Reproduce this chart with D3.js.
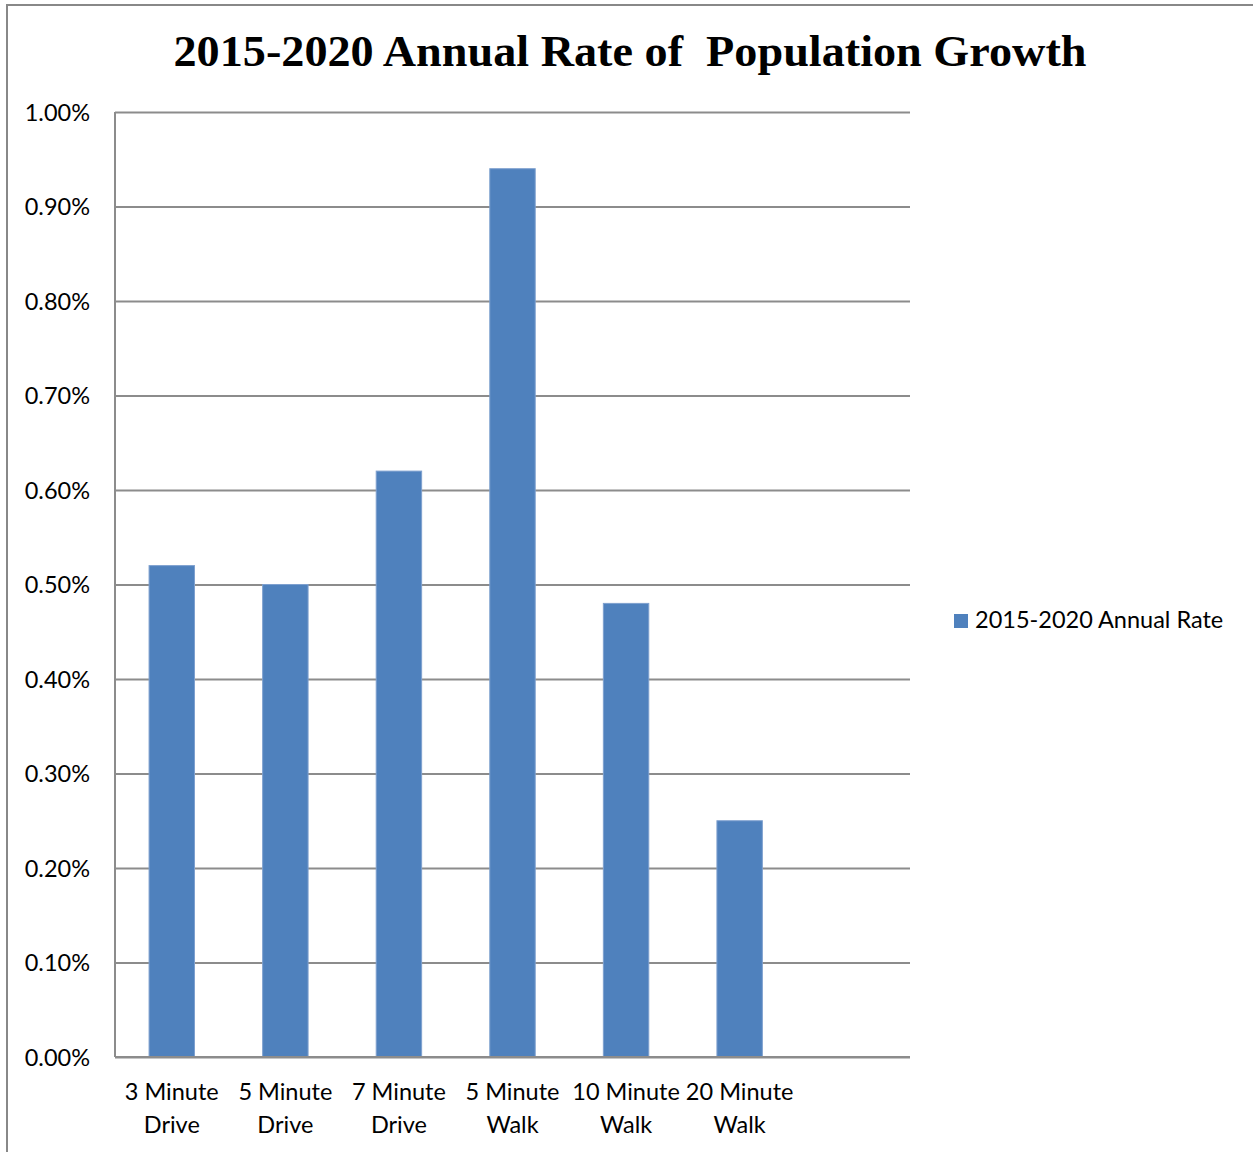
<!DOCTYPE html>
<html>
<head>
<meta charset="utf-8">
<script src="https://cdn.jsdelivr.net/npm/d3@7"></script>
<style>
  html, body { margin: 0; padding: 0; background: #fff; }
  svg { display: block; }
</style>
</head>
<body>
<script>
// Annual population growth rate by catchment area (percent)
const categories = [
  ["3 Minute", "Drive"],
  ["5 Minute", "Drive"],
  ["7 Minute", "Drive"],
  ["5 Minute", "Walk"],
  ["10 Minute", "Walk"],
  ["20 Minute", "Walk"],
  ["", ""]
];
const rates = [0.52, 0.50, 0.62, 0.94, 0.48, 0.25, null];
const yTicks = [0, 0.1, 0.2, 0.3, 0.4, 0.5, 0.6, 0.7, 0.8, 0.9, 1.0];
const seriesName = "2015-2020 Annual Rate";
const chartTitle = "2015-2020 Annual Rate of  Population Growth";

const W = 1253, H = 1152;
const plot = { left: 115, right: 910, top: 112, bottom: 1057 };
const labelFont = "Lato, 'Open Sans', sans-serif";
const labelSize = "23.5px";

const svg = d3.select("body").append("svg")
  .attr("width", W).attr("height", H);

// outer chart frame
svg.append("rect")
  .attr("x", 7).attr("y", 5)
  .attr("width", W + 20).attr("height", H + 20)
  .attr("fill", "#fff")
  .attr("stroke", "#888").attr("stroke-width", 2);

svg.append("text")
  .attr("x", 630).attr("y", 66)
  .attr("text-anchor", "middle")
  .attr("textLength", 913)
  .attr("lengthAdjust", "spacingAndGlyphs")
  .style("font-family", "'Liberation Serif', 'DejaVu Serif', serif")
  .style("font-weight", "bold")
  .style("font-size", "45px")
  .attr("fill", "#000")
  .style("white-space", "pre")
  .text(chartTitle);

const x = d3.scaleBand()
  .domain(d3.range(categories.length))
  .range([plot.left, plot.right])
  .paddingInner(0.6).paddingOuter(0.3);

const y = d3.scaleLinear()
  .domain([0, 1.0])
  .range([plot.bottom, plot.top]);

// horizontal gridlines
const yAxis = d3.axisLeft(y)
  .tickValues(yTicks)
  .tickFormat(d => d3.format(".2f")(d) + "%")
  .tickSize(-(plot.right - plot.left))
  .tickPadding(25);

const gy = svg.append("g")
  .attr("transform", `translate(${plot.left},0)`)
  .call(yAxis);
gy.select(".domain").remove();
gy.selectAll(".tick line")
  .attr("stroke", "#8c8c8c").attr("stroke-width", 2);
gy.selectAll(".tick text")
  .attr("fill", "#000")
  .attr("dy", "0.36em")
  .style("font-family", labelFont)
  .style("font-size", labelSize);

// vertical axis line
svg.append("line")
  .attr("x1", plot.left).attr("x2", plot.left)
  .attr("y1", plot.top).attr("y2", plot.bottom)
  .attr("stroke", "#8c8c8c").attr("stroke-width", 2);

// bars
svg.append("g").selectAll("rect")
  .data(rates.map((v, i) => ({ v, i })).filter(d => d.v !== null))
  .join("rect")
  .attr("x", d => x(d.i))
  .attr("y", d => y(d.v))
  .attr("width", x.bandwidth())
  .attr("height", d => y(0) - y(d.v))
  .attr("fill", "#4f81bd")
  .attr("stroke", "#7ea0cf")
  .attr("stroke-width", 1);

// baseline
svg.append("line")
  .attr("x1", plot.left).attr("x2", plot.right)
  .attr("y1", plot.bottom).attr("y2", plot.bottom)
  .attr("stroke", "#8c8c8c").attr("stroke-width", 2);

// category labels
const catG = svg.append("g");
categories.forEach((lines, i) => {
  const cx = x(i) + x.bandwidth() / 2;
  const t = catG.append("text")
    .attr("text-anchor", "middle")
    .attr("fill", "#000")
    .style("font-family", labelFont)
    .style("font-size", labelSize);
  lines.forEach((ln, k) => {
    t.append("tspan").attr("x", cx).attr("y", 1100 + k * 33).text(ln);
  });
});

// legend
const lg = svg.append("g").attr("transform", "translate(954,614)");
lg.append("rect").attr("width", 14).attr("height", 14).attr("fill", "#4f81bd");
lg.append("text")
  .attr("x", 21).attr("y", 14)
  .attr("fill", "#000")
  .style("font-family", labelFont)
  .style("font-size", labelSize)
  .text(seriesName);
</script>
</body>
</html>
